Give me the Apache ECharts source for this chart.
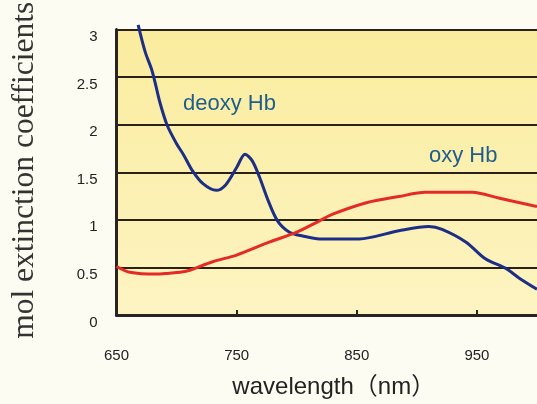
<!DOCTYPE html>
<html>
<head>
<meta charset="utf-8">
<script src="https://cdn.jsdelivr.net/npm/echarts@6/dist/echarts.min.js"></script>
<style>
html,body{margin:0;padding:0;background:#fdfcf2;}
#c{width:537px;height:404px;}
</style>
</head>
<body>
<div id="c"></div>
<script>
// Data
const xLabels = [650, 750, 850, 950];
const deoxyWl  = [668, 674, 679, 682, 686, 692, 700, 706, 713, 722, 733, 741, 750, 757, 763, 769, 776, 784, 794, 805, 819, 852, 885, 910, 921, 941, 957, 974, 985, 1000];
const deoxyVal = [3.05, 2.76, 2.59, 2.45, 2.24, 2.00, 1.80, 1.68, 1.52, 1.38, 1.31, 1.37, 1.55, 1.69, 1.62, 1.45, 1.21, 0.99, 0.87, 0.83, 0.80, 0.80, 0.885, 0.93, 0.90, 0.765, 0.59, 0.49, 0.39, 0.27];
const oxyWl  = [650, 661, 683, 694, 703, 711, 730, 750, 777, 800, 819, 830, 858, 885, 907, 946, 968, 1000];
const oxyVal = [0.51, 0.45, 0.43, 0.44, 0.45, 0.47, 0.56, 0.63, 0.765, 0.87, 0.99, 1.06, 1.18, 1.245, 1.29, 1.29, 1.23, 1.14];

const chart = echarts.init(document.getElementById('c'));
const pair = (xs, ys) => xs.map((x, i) => [x, ys[i]]);

chart.setOption({
  backgroundColor: '#fdfcf2',
  animation: false,
  grid: {
    left: 116.5, top: 26.5, right: 0, bottom: 86.5,
    show: true, borderWidth: 0,
    backgroundColor: {
      type: 'linear', x: 0, y: 0, x2: 0, y2: 1,
      colorStops: [{offset: 0, color: '#faec9e'}, {offset: 1, color: '#fdf4c2'}]
    }
  },
  xAxis: {
    type: 'value', min: 650, max: 1000,
    name: 'wavelength（nm）', nameLocation: 'middle', nameGap: 60,
    nameTextStyle: {fontSize: 24, color: '#222', fontFamily: 'Liberation Sans, "Noto Sans CJK JP"', padding: [0, 0, 0, 14]},
    axisLine: {show: true, lineStyle: {color: '#2a2420', width: 3}},
    axisTick: {show: true, inside: true, length: 5, customValues: [750, 850, 950], lineStyle: {color: '#2a2420', width: 2}},
    axisLabel: {customValues: xLabels, margin: 33, fontSize: 15, color: '#222', fontFamily: 'Liberation Sans'},
    splitLine: {show: false}
  },
  yAxis: {
    type: 'value', min: 0, max: 3, interval: 0.5,
    name: 'mol extinction coefficients', nameLocation: 'middle', nameRotate: 90, nameGap: 76,
    nameTextStyle: {fontSize: 31.5, color: '#333', fontFamily: 'Liberation Serif', padding: [0, 0, 0, 4]},
    axisLine: {show: true, lineStyle: {color: '#2a2420', width: 3}},
    axisTick: {show: false},
    axisLabel: {margin: 19, fontSize: 15, color: '#222', verticalAlign: 'top', fontFamily: 'Liberation Sans'},
    splitLine: {show: true, lineStyle: {color: '#2a2218', width: 2}}
  },
  graphic: [
    {type: 'text', left: 183, top: 93, style: {text: 'deoxy Hb', fontSize: 22, fill: '#1f5d8c', fontFamily: 'Liberation Sans'}},
    {type: 'text', left: 429, top: 145, style: {text: 'oxy Hb', fontSize: 22, fill: '#1f5d8c', fontFamily: 'Liberation Sans'}}
  ],
  series: [
    {type: 'line', name: 'deoxy Hb', data: pair(deoxyWl, deoxyVal), showSymbol: false, smooth: 0.3, clip: false,
     lineStyle: {color: '#1c2e86', width: 3}},
    {type: 'line', name: 'oxy Hb', data: pair(oxyWl, oxyVal), showSymbol: false, smooth: 0.3, clip: false,
     lineStyle: {color: '#e42b25', width: 3}}
  ]
});
</script>
</body>
</html>
